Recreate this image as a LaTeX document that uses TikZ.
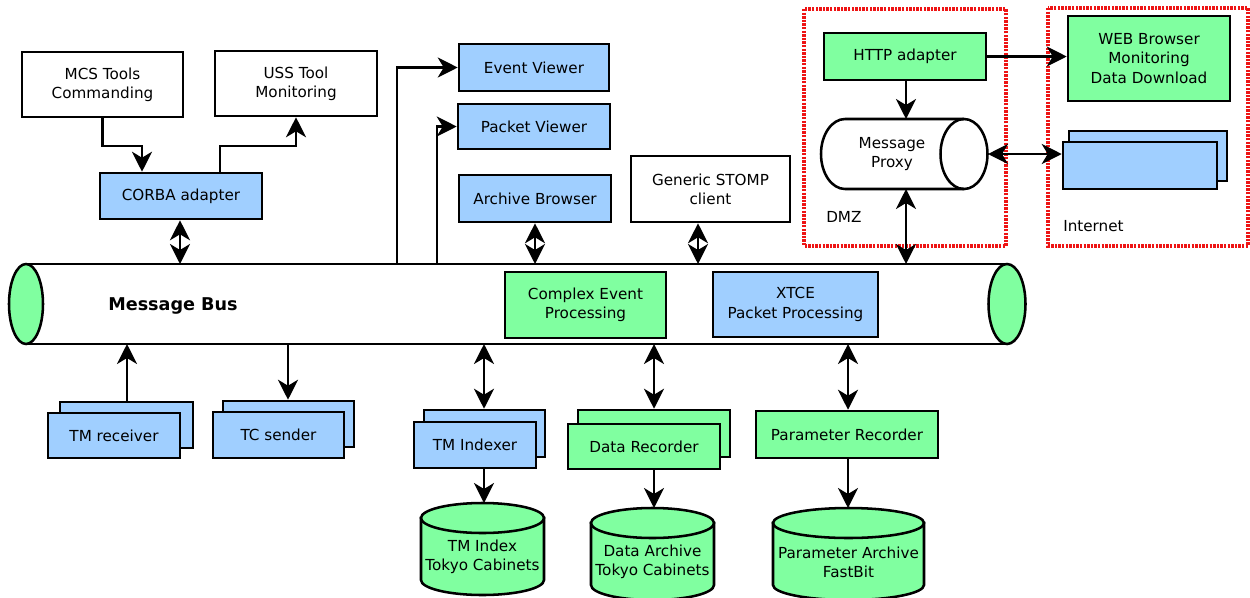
\documentclass[tikz,border=0pt]{standalone}
\usepackage{fontspec}
\setmainfont{DejaVu Sans}
\usetikzlibrary{arrows.meta}
\definecolor{bluef}{RGB}{160,207,255}
\definecolor{greenf}{RGB}{128,255,160}
\definecolor{dred}{RGB}{238,20,20}
\newcommand\mkcyl[5]{%
  \filldraw[fill=greenf, line width=1.9pt] (#1-#2,#3) -- (#1-#2,#4) arc[start angle=180,end angle=0,x radius=#2,y radius=#5] -- (#1+#2,#3) -- cycle;
  \filldraw[fill=greenf, line width=1.9pt] (#1,#3) ellipse[x radius=#2, y radius=#5];
}
\begin{document}
\begin{tikzpicture}[x=0.75pt,y=-0.75pt,
  txt/.style={inner sep=0pt, align=center, font=\fontsize{11.4}{14.5}\selectfont},
  box/.style={txt, draw, line width=1.9pt},
  wbox/.style={box, fill=white},
  bbox/.style={box, fill=bluef},
  gbox/.style={box, fill=greenf},
  arr/.style={line width=1.8pt, -{Stealth[length=15pt,width=15pt,inset=4.5pt]}},
  darr/.style={line width=1.8pt, {Stealth[length=15pt,width=15pt,inset=4.5pt]}-{Stealth[length=15pt,width=15pt,inset=4.5pt]}},
  zone/.style={dred, line width=3.4pt, dash pattern=on 1.8pt off 0.9pt}
]
\useasboundingbox (0,0) rectangle (1250,597);

% zones
\draw[zone] (804,9) rectangle (1006,246);
\draw[zone] (1048,8) rectangle (1248,246);
\node[txt, anchor=west] (dmzlbl) at (826,217) {DMZ};
\node[txt, anchor=west] (inetlbl) at (1063,226) {Internet};

% message bus
\coordinate (bustop) at (0,264);
\coordinate (busbot) at (0,344);
\fill[white] (27,264) rectangle (1007,344);
\draw[line width=1.9pt] (27,264) -- (1007,264);
\draw[line width=1.9pt] (27,344) -- (1007,344);
\filldraw[fill=greenf, line width=1.9pt] (1007,304) ellipse[x radius=18.5, y radius=40];
\filldraw[fill=greenf, line width=1.9pt] (26,304) ellipse[x radius=17, y radius=40];
\node[txt, font=\fontsize{13.2}{16}\selectfont\bfseries] (buslbl) at (173,306) {Message Bus};
\node[gbox, minimum width=120.75pt, minimum height=49.5pt] (cep) at (585.5,305) {Complex Event\\Processing};
\node[bbox, minimum width=123.75pt, minimum height=48.75pt] (xtce) at (795.5,304.5) {XTCE\\Packet Processing};

% top left
\node[wbox, minimum width=120.75pt, minimum height=48.75pt] (mcs) at (102.5,84.5) {MCS Tools\\Commanding};
\node[wbox, minimum width=121.5pt, minimum height=48.75pt] (uss) at (296,83.5) {USS Tool\\Monitoring};
\node[bbox, minimum width=121.5pt, minimum height=34.5pt] (corba) at (181,196) {CORBA adapter};

% viewers
\node[bbox, minimum width=112.5pt, minimum height=35.25pt] (ev) at (534,67.5) {Event Viewer};
\node[bbox, minimum width=114pt, minimum height=33.75pt] (pv) at (534,126.5) {Packet Viewer};
\node[bbox, minimum width=114pt, minimum height=35.25pt] (ab) at (535,198.5) {Archive Browser};
\node[wbox, minimum width=119.25pt, minimum height=49.5pt] (stomp) at (710.5,189) {Generic STOMP\\client};

% DMZ
\node[gbox, minimum width=121.5pt, minimum height=35.25pt] (http) at (905,56.5) {HTTP adapter};
\filldraw[fill=white, line width=1.9pt] (964,119) -- (845,119) arc[start angle=270, end angle=90, x radius=24, y radius=35] -- (964,189);
\draw[line width=1.9pt] (964,154) ellipse[x radius=23.5, y radius=35];
\node[txt] (proxy) at (892,154) {Message\\Proxy};
\coordinate (proxyT) at (906,119);
\coordinate (proxyB) at (906,189);
\coordinate (proxyR) at (988,154);

% Internet
\node[gbox, minimum width=121.5pt, minimum height=63.75pt] (web) at (1149,58.5) {WEB Browser\\Monitoring\\Data Download};
\node[bbox, minimum width=118.5pt, minimum height=37.5pt] (inetb) at (1148,156) {};
\node[bbox, minimum width=115.5pt, minimum height=35.25pt] (inet) at (1140,165.5) {};

% bottom
\node[bbox, minimum width=99.75pt, minimum height=34.5pt] (tmrb) at (126.5,425) {};
\node[bbox, minimum width=99pt, minimum height=33.75pt] (tmr) at (114,435.5) {TM receiver};
\node[bbox, minimum width=98.25pt, minimum height=34.5pt] (tcsb) at (288.5,424) {};
\node[bbox, minimum width=98.25pt, minimum height=34.5pt] (tcs) at (278.5,435) {TC sender};
\node[bbox, minimum width=90.75pt, minimum height=35.25pt] (tmib) at (484.5,433.5) {};
\node[bbox, minimum width=91.5pt, minimum height=34.5pt] (tmi) at (475,445) {TM Indexer};
\node[gbox, minimum width=114pt, minimum height=35.25pt] (drb) at (654,433.5) {};
\node[gbox, minimum width=114pt, minimum height=33.75pt] (dr) at (644,446.5) {Data Recorder};
\node[gbox, minimum width=136.5pt, minimum height=35.25pt] (pr) at (847,434.5) {Parameter Recorder};

% databases
\mkcyl{482.5}{61.5}{518}{580}{15}
\mkcyl{652.5}{61.5}{523}{585}{15}
\mkcyl{848.5}{75.5}{523}{585}{15}
\node[txt] (tmix) at (482.5,557) {TM Index\\Tokyo Cabinets};
\node[txt] (darch) at (652.5,562) {Data Archive\\Tokyo Cabinets};
\node[txt] (parch) at (848.5,562) {Parameter Archive\\FastBit};
\coordinate (tmixtop) at (484,503);
\coordinate (darchtop) at (654,508);
\coordinate (parchtop) at (848,508);

% connectors top
\draw[arr] (mcs.south) |- (142,146) -- (142,0 |- corba.north);
\draw[arr] (220,0 |- corba.north) |- (296,146) -- (uss.south);
\draw[darr] (180,0 |- corba.south) -- (180,0 |- bustop);
\draw[arr] (397,0 |- bustop) |- (ev.west);
\draw[arr] (437,0 |- bustop) |- (pv.west);
\draw[darr] (ab.south) -- (ab.south |- bustop);
\draw[darr] (698,0 |- stomp.south) -- (698,0 |- bustop);
\draw[darr] (proxyB) -- (proxyB |- bustop);
\draw[arr] (http.south -| proxyT) -- (proxyT);
\draw[arr] (http.east) -- (http.east -| web.west);
\draw[darr] (proxyR) -- (proxyR -| inet.west);

% connectors bottom
\draw[arr] (tmrb.north -| 127,0) -- (127,0 |- busbot);
\draw[arr] (288,0 |- busbot) -- (288,0 |- tcsb.north);
\draw[darr] (484,0 |- busbot) -- (484,0 |- tmib.north);
\draw[darr] (654,0 |- busbot) -- (654,0 |- drb.north);
\draw[darr] (848,0 |- busbot) -- (848,0 |- pr.north);
\draw[arr] (tmixtop |- tmi.south) -- (tmixtop);
\draw[arr] (darchtop |- dr.south) -- (darchtop);
\draw[arr] (parchtop |- pr.south) -- (parchtop);
\end{tikzpicture}
\end{document}
